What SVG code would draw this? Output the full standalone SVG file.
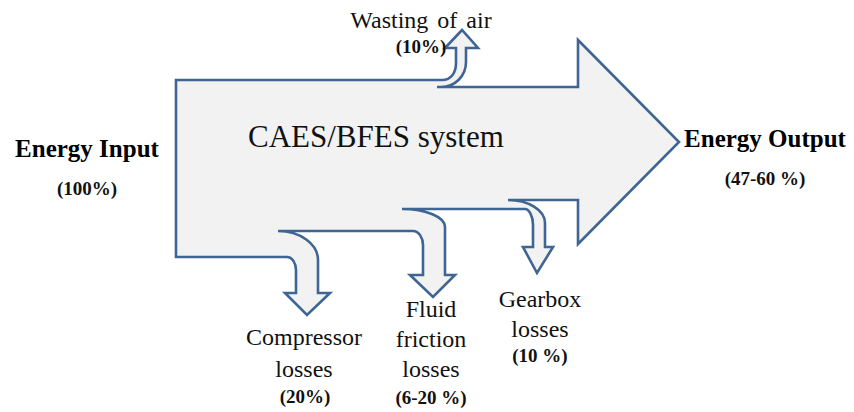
<svg xmlns="http://www.w3.org/2000/svg" width="854" height="412" viewBox="0 0 854 412">
<style>
.shape{fill:#F2F2F2;stroke:#3E6593;stroke-width:2.6;stroke-linejoin:miter;stroke-miterlimit:10}
.lbl{font-family:"Liberation Serif","Times New Roman",serif;font-size:24px;fill:#111;text-anchor:middle}
.pct{font-family:"Liberation Serif","Times New Roman",serif;font-size:19px;font-weight:bold;fill:#111;text-anchor:middle}
.big{font-family:"Liberation Serif","Times New Roman",serif;font-size:25px;font-weight:bold;fill:#000;text-anchor:middle}
.title{font-family:"Liberation Serif","Times New Roman",serif;font-size:31px;fill:#111}
</style>
<rect width="854" height="412" fill="#fff"/>
<g id="connectors">
<path id="system-arrow" class="shape" d="M176,80 H442 C451,80 456,73 456,63 V48 H445 L462,30 L478,48 H466 V62 C466,76 455,87 441,87 L437,87 H578 V40 L679,142 L578,244 V200 H508 C528,200 545,210 545,223 V247 H553 L537,273 L523,247 H533 V225 C533,216 529,209 525,209 H402 C426,209 445,217 445,227 V275 H455 L433,297 L410,275 H423 V245 C423,238 419,231 413,231 H278 C300,231 318,244 318,260 V293 H330 L307,315 L285,293 H296 V270 C296,263 292,257 287,257 H176 Z"/>
</g>
<g id="system"><text class="title" x="248" y="147">CAES/BFES system</text></g>
<g id="input">
<text class="big" x="87" y="157">Energy Input</text>
<text class="pct" x="87" y="195">(100%)</text>
</g>
<g id="output">
<text class="big" x="765" y="147">Energy Output</text>
<text class="pct" x="765" y="185">(47-60 %)</text>
</g>
<g id="wasting">
<text class="lbl" x="421" y="28" word-spacing="3">Wasting of air</text>
<text class="pct" x="421" y="53">(10%)</text>
</g>
<g id="compressor">
<text class="lbl" x="304" y="345">Compressor</text>
<text class="lbl" x="304" y="377">losses</text>
<text class="pct" x="305" y="403">(20%)</text>
</g>
<g id="fluid">
<text class="lbl" x="431" y="317">Fluid</text>
<text class="lbl" x="431" y="347">friction</text>
<text class="lbl" x="431" y="377">losses</text>
<text class="pct" x="431" y="404">(6-20 %)</text>
</g>
<g id="gearbox">
<text class="lbl" x="540" y="307">Gearbox</text>
<text class="lbl" x="540" y="337">losses</text>
<text class="pct" x="540" y="362">(10 %)</text>
</g>
</svg>
